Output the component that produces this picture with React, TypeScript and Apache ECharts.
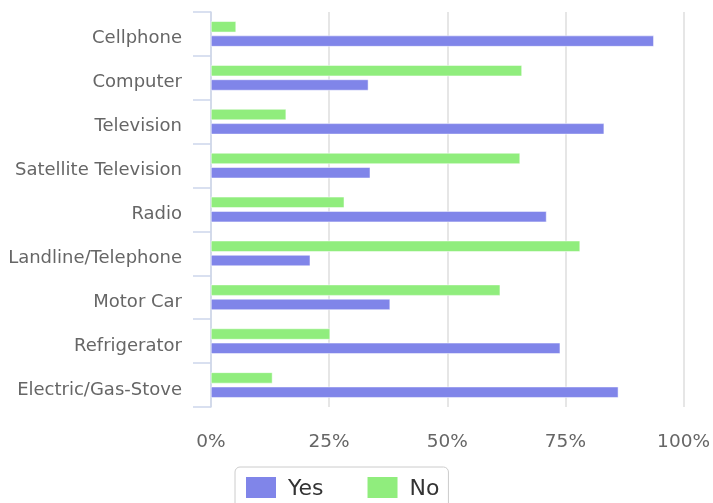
import React, { useEffect, useRef } from "react";
import * as echarts from "echarts";

const categories = [
  "Cellphone",
  "Computer",
  "Television",
  "Satellite Television",
  "Radio",
  "Landline/Telephone",
  "Motor Car",
  "Refrigerator",
  "Electric/Gas-Stove",
];
const yesValues = [93.7, 33.3, 83.2, 33.7, 71.0, 21.0, 37.9, 73.9, 86.2];
const noValues = [5.3, 65.8, 15.9, 65.4, 28.2, 78.1, 61.2, 25.2, 13.0];
const seriesNames = ["Yes", "No"];
const xTicks = { min: 0, max: 100, interval: 25 };

export default function App() {
  const ref = useRef<HTMLDivElement>(null);
  useEffect(() => {
    if (!ref.current) return;
    const chart = echarts.init(ref.current, undefined, { renderer: "svg" });
    chart.setOption({
      animation: false,
      textStyle: { fontFamily: "DejaVu Sans" },
      grid: { left: 211, right: 29, top: 12, bottom: 96, containLabel: false },
      legend: {
        data: seriesNames,
        left: 235,
        top: 467,
        padding: [8, 9, 8, 9],
        itemWidth: 32,
        itemHeight: 23,
        itemGap: 42,
        icon: "rect",
        borderColor: "#cccccc",
        borderWidth: 1,
        borderRadius: 5,
        textStyle: { fontSize: 22, color: "#333333", fontFamily: "DejaVu Sans", padding: [0, 0, 0, 6] },
      },
      xAxis: {
        type: "value",
        min: xTicks.min,
        max: xTicks.max,
        interval: xTicks.interval,
        axisLine: { show: false },
        axisTick: { show: false },
        splitLine: { show: true, lineStyle: { color: "#dedede", width: 1.5 } },
        axisLabel: {
          formatter: "{value}%",
          fontSize: 18.5,
          color: "#666666",
          margin: 24,
          fontFamily: "DejaVu Sans",
        },
      },
      yAxis: {
        type: "category",
        data: categories,
        inverse: true,
        axisLine: { show: true, lineStyle: { color: "#ccd6eb", width: 1.5 } },
        axisTick: { show: true, length: 18, lineStyle: { color: "#ccd6eb", width: 1.5 } },
        axisLabel: {
          fontSize: 18,
          color: "#666666",
          margin: 29,
          fontFamily: "DejaVu Sans",
          verticalAlign: "top",
          lineHeight: 6,
        },
        splitLine: { show: false },
      },
      series: [
        {
          name: "No",
          type: "bar",
          data: noValues,
          barWidth: 11,
          barGap: "30%",
          itemStyle: { color: "#90ed7d", borderColor: "#ffffff", borderWidth: 0.5 },
        },
        {
          name: "Yes",
          type: "bar",
          data: yesValues,
          barWidth: 11,
          barGap: "30%",
          itemStyle: { color: "#8085e9", borderColor: "#ffffff", borderWidth: 0.5 },
        },
      ],
    });
    return () => chart.dispose();
  }, []);
  return (
    <div
      ref={ref}
      style={{ position: "fixed", left: 0, top: 0, width: 713, height: 503 }}
    />
  );
}
